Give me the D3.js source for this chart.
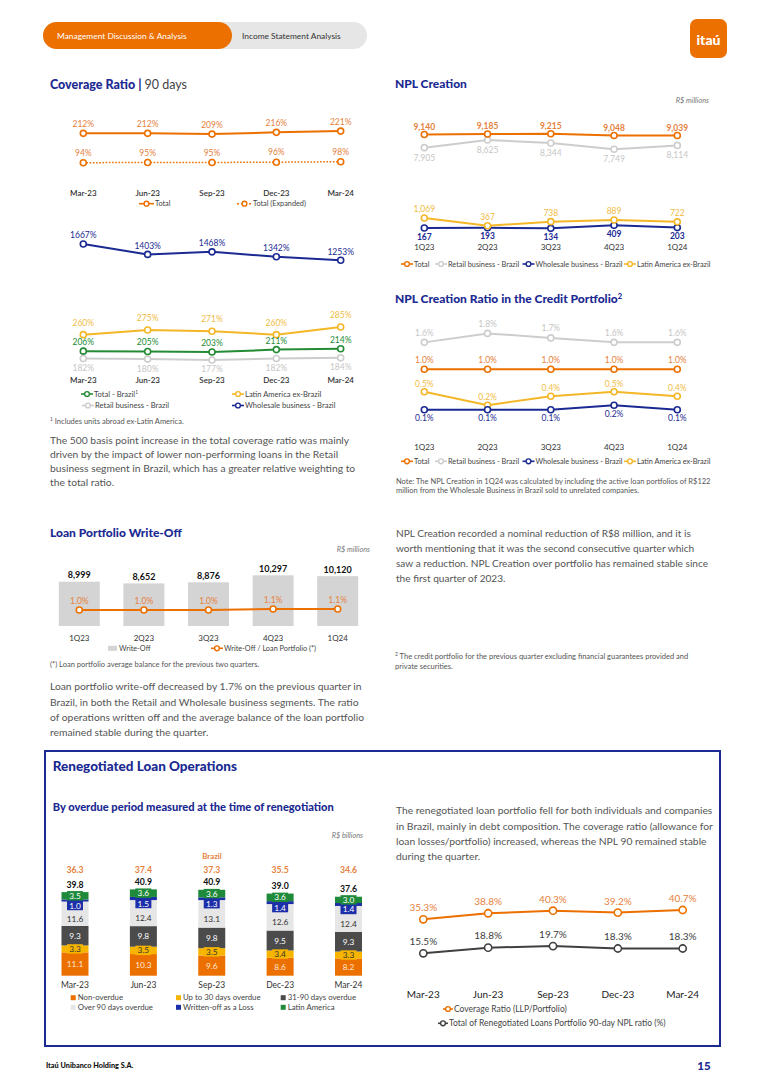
<!DOCTYPE html>
<html><head><meta charset="utf-8">
<script src="https://cdn.jsdelivr.net/npm/d3@7"></script>
<style>html,body{margin:0;padding:0;background:#fff}svg{display:block}</style>
</head><body>
<script>
// ---------------- DATA ----------------
const months = ["Mar-23","Jun-23","Sep-23","Dec-23","Mar-24"];
const quarters = ["1Q23","2Q23","3Q23","4Q23","1Q24"];

// Coverage ratio (90 days), %
const covTotal = [212,212,209,216,221];
const covExpanded = [94,95,95,96,98];
const covWholesale = [1667,1403,1468,1342,1253];
const covLatam = [260,275,271,260,285];
const covBrazil = [206,205,203,211,214];
const covRetail = [182,180,177,182,184];

// NPL creation, R$ millions
const nplTotal = [9140,9185,9215,9048,9039];
const nplRetail = [7905,8625,8344,7749,8114];
const nplWholesale = [167,193,134,409,203];
const nplLatam = [1069,367,738,889,722];

// NPL creation ratio in the credit portfolio, %
const ratioRetail = [1.6,1.8,1.7,1.6,1.6];
const ratioTotal = [1.0,1.0,1.0,1.0,1.0];
const ratioLatam = [0.5,0.2,0.4,0.5,0.4];
const ratioWholesale = [0.1,0.1,0.1,0.2,0.1];

// Loan portfolio write-off
const writeOff = [8999,8652,8876,10297,10120];
const writeOffRatio = [1.0,1.0,1.0,1.1,1.1];

// Renegotiated loans, R$ billions
const segNames = ["Non-overdue","Up to 30 days overdue","31-90 days overdue","Over 90 days overdue","Written-off as a Loss","Latin America"];
const nonOverdue = [11.1,10.3,9.6,8.6,8.2];
const upTo30 = [3.3,3.5,3.5,3.4,3.3];
const days31to90 = [9.3,9.8,9.8,9.5,9.3];
const over90 = [11.6,12.4,13.1,12.6,12.4];
const writtenOffLoss = [1.0,1.5,1.3,1.4,1.4];
const latinAmerica = [3.5,3.6,3.6,3.6,3.0];
const brazilTotal = [36.3,37.4,37.3,35.5,34.6];
const grandTotal = [39.8,40.9,40.9,39.0,37.6];
const renegCoverage = [35.3,38.8,40.3,39.2,40.7];
const renegNPL90 = [15.5,18.8,19.7,18.3,18.3];

// ---------------- STYLE ----------------
const FONT = "Lato, 'Open Sans', 'Noto Sans', sans-serif";
const ORANGE = "#EC7000", ORANGE_L = "#E5813D";
const NAVY = "#1B2A92";
const YELLOW = "#F4B728", YELLOW_L = "#F0BC45";
const GREEN = "#238B34";
const LGRAY = "#CDCDCD", LGRAY_L = "#C6C6C6";
const TXT = "#4A4A4A";
const PARA = 10.3, NOTE = 7.5;

const W = 766, H = 1083;
const svg = d3.select("body").append("svg").attr("width", W).attr("height", H)
  .style("font-family", FONT);
svg.append("rect").attr("width", W).attr("height", H).attr("fill", "#fff");

function txt(x, y, s, o = {}) {
  const t = svg.append("text").attr("x", x).attr("y", y).text(s)
    .attr("font-size", o.size || 8).attr("fill", o.color || TXT)
    .attr("text-anchor", o.anchor || "start");
  if (o.weight) t.attr("font-weight", o.weight);
  if (o.italic) t.attr("font-style", "italic");
  return t;
}
function para(x, y0, lh, lines, size) {
  lines.forEach((l, i) => txt(x, y0 + i * lh, l, {size: size || PARA, color: "#555"}));
}
const pct = d => d + "%";
const pct1 = d => d3.format(".1f")(d) + "%";
const num = d3.format(",");

function series(values, x, cats, y, o) {
  const g = svg.append("g");
  const pts = values.map((v, i) => [x(cats[i]), y(v)]);
  g.append("path").attr("d", d3.line()(pts)).attr("fill", "none")
    .attr("stroke", o.color).attr("stroke-width", o.width || 2)
    .attr("stroke-dasharray", o.dash || null);
  g.selectAll("circle").data(pts).join("circle")
    .attr("cx", d => d[0]).attr("cy", d => d[1]).attr("r", o.r || 3)
    .attr("fill", "#fff").attr("stroke", o.color).attr("stroke-width", 1.6);
  const fs = o.fs || 8.5;
  g.selectAll("text").data(values).join("text")
    .attr("x", (d, i) => x(cats[i]))
    .attr("y", d => y(d) + o.dy + fs * 0.35)
    .attr("text-anchor", "middle").attr("font-size", fs)
    .attr("fill", o.labelColor || o.color)
    .attr("font-weight", o.lw || null)
    .text(o.fmt);
}
function xLabels(x, cats, y, o = {}) {
  cats.forEach(c => txt(x(c), y, c, {anchor: "middle", size: o.size || 8, color: o.color || "#333", weight: o.weight}));
}
function legLine(x, y, color, label, o = {}) {
  const len = o.len || 12;
  svg.append("line").attr("x1", x).attr("x2", x + len).attr("y1", y).attr("y2", y)
    .attr("stroke", color).attr("stroke-width", 1.6).attr("stroke-dasharray", o.dash || null);
  svg.append("circle").attr("cx", x + len / 2).attr("cy", y).attr("r", 2.4)
    .attr("fill", "#fff").attr("stroke", color).attr("stroke-width", 1.4);
  return txt(x + len + 1, y + 2.5, label, {size: o.size || 7.3, color: "#444"});
}
function legBox(x, y, color, label, o = {}) {
  svg.append("rect").attr("x", x).attr("y", y - (o.h || 5) / 2).attr("width", o.w || 5).attr("height", o.h || 5).attr("fill", color);
  txt(x + (o.w || 5) + 2, y + 2.6, label, {size: o.size || 7.3, color: "#444"});
}
function title(x, y, s, size) {
  return txt(x, y, s, {size: size || 12, color: NAVY, weight: 900});
}

// ---------------- HEADER ----------------
svg.append("rect").attr("x", 43).attr("y", 22).attr("width", 324).attr("height", 27).attr("rx", 13.5).attr("fill", "#E6E6E6");
svg.append("rect").attr("x", 43).attr("y", 22).attr("width", 189).attr("height", 27).attr("rx", 13.5).attr("fill", ORANGE);
txt(57, 38.8, "Management Discussion & Analysis", {size: 8.4, color: "#fff"});
txt(242, 38.8, "Income Statement Analysis", {size: 8.4, color: "#333"});
svg.append("rect").attr("x", 690).attr("y", 19).attr("width", 37).attr("height", 39).attr("rx", 7).attr("fill", ORANGE);
txt(708.5, 44.5, "itaú", {size: 14, color: "#fff", anchor: "middle", weight: 900});

// ---------------- COVERAGE RATIO ----------------
{
  const t = title(50, 88.5, "Coverage Ratio", 12.5);
  t.append("tspan").text(" | ");
  t.append("tspan").text("90 days").attr("font-weight", 400).attr("fill", "#444");
  const x = d3.scalePoint().domain(months).range([83.3, 340.7]);
  const y1 = d3.scaleLinear().domain([94, 221]).range([162.7, 131.1]);
  series(covTotal, x, months, y1, {color: ORANGE, labelColor: ORANGE_L, dy: -9.3, fmt: pct});
  series(covExpanded, x, months, y1, {color: ORANGE, labelColor: ORANGE_L, dy: -9.7, fmt: pct, dash: "1.6,1.6", width: 1.5});
  xLabels(x, months, 195.5, {weight: 600});
  legLine(139, 203.7, ORANGE, "Total", {len: 15});
  legLine(237, 203.7, ORANGE, "Total (Expanded)", {len: 15, dash: "2,2"});

  const yW = d3.scaleLinear().domain([1253, 1667]).range([260.3, 244]);
  series(covWholesale, x, months, yW, {color: NAVY, dy: -8.5, fmt: pct});

  const y3 = d3.scaleLinear().domain([177, 285]).range([360, 327]);
  series(covRetail, x, months, y3, {color: LGRAY, labelColor: LGRAY_L, dy: 9.5, fmt: pct});
  series(covLatam, x, months, y3, {color: YELLOW, labelColor: YELLOW_L, dy: -12, fmt: pct});
  series(covBrazil, x, months, y3, {color: GREEN, dy: -9, fmt: pct});
  xLabels(x, months, 383.3, {weight: 600});
  const l1 = legLine(81, 394, GREEN, "Total - Brazil", {size: 7.6});
  l1.append("tspan").text("1").attr("font-size", 4.8).attr("dy", -3);
  legLine(232, 394, YELLOW, "Latin America ex-Brazil", {size: 7.6});
  legLine(82, 405.5, LGRAY, "Retail business - Brazil", {size: 7.6});
  legLine(232, 405.5, NAVY, "Wholesale business - Brazil", {size: 7.6});
  const fn = txt(50, 423.8, "", {size: NOTE, color: "#555"});
  fn.append("tspan").text("1").attr("font-size", 5).attr("dy", -2.7);
  fn.append("tspan").text(" Includes units abroad ex-Latin America.").attr("dy", 2.7);
  para(50, 443.8, 14.1, [
    "The 500 basis point increase in the total coverage ratio was mainly",
    "driven by the impact of lower non-performing loans in the Retail",
    "business segment in Brazil, which has a greater relative weighting to",
    "the total ratio."]);
}

// ---------------- NPL CREATION ----------------
{
  title(395, 87.8, "NPL Creation");
  txt(709, 103, "R$ millions", {size: 7.3, color: "#777", anchor: "end", italic: true});
  const x = d3.scalePoint().domain(quarters).range([424.3, 677.3]);
  const yU = d3.scaleLinear().domain([7749, 9215]).range([149.3, 133.7]);
  const yL = d3.scaleLinear().domain([167, 1069]).range([228, 218]);
  series(nplRetail, x, quarters, yU, {color: LGRAY, labelColor: LGRAY_L, dy: 10, fmt: num});
  series(nplTotal, x, quarters, yU, {color: ORANGE, labelColor: ORANGE_L, dy: -7.8, fmt: num, lw: 700});
  series(nplWholesale, x, quarters, yL, {color: NAVY, dy: 8.7, fmt: num, lw: 700});
  series(nplLatam, x, quarters, yL, {color: YELLOW, labelColor: YELLOW_L, dy: -8.5, fmt: num});
  xLabels(x, quarters, 250, {color: "#333"});
  legLine(401, 264, ORANGE, "Total");
  legLine(435, 264, LGRAY, "Retail business - Brazil");
  legLine(522.5, 264, NAVY, "Wholesale business - Brazil");
  legLine(624, 264, YELLOW, "Latin America ex-Brazil");
}

// ---------------- NPL CREATION RATIO ----------------
{
  const t = title(395, 303.3, "NPL Creation Ratio in the Credit Portfolio");
  t.append("tspan").text("2").attr("font-size", 7.5).attr("dy", -4.5);
  const x = d3.scalePoint().domain(quarters).range([424.3, 677.3]);
  const y = d3.scaleLinear().domain([0.1, 1.0]).range([409.7, 369.3]);
  series(ratioRetail, x, quarters, y, {color: LGRAY, labelColor: LGRAY_L, dy: -9.5, fmt: pct1});
  series(ratioTotal, x, quarters, y, {color: ORANGE, labelColor: ORANGE_L, dy: -9.3, fmt: pct1});
  series(ratioLatam, x, quarters, y, {color: YELLOW, labelColor: YELLOW_L, dy: -7.8, fmt: pct1});
  series(ratioWholesale, x, quarters, y, {color: NAVY, dy: 8.5, fmt: pct1});
  xLabels(x, quarters, 449.8, {color: "#333"});
  legLine(401, 461.3, ORANGE, "Total");
  legLine(435, 461.3, LGRAY, "Retail business - Brazil");
  legLine(522.5, 461.3, NAVY, "Wholesale business - Brazil");
  legLine(624, 461.3, YELLOW, "Latin America ex-Brazil");
  txt(396, 483.8, "Note: The NPL Creation in 1Q24 was calculated by including the active loan portfolios of R$122", {size: NOTE, color: "#555"});
  txt(396, 493, "million from the Wholesale Business in Brazil sold to unrelated companies.", {size: NOTE, color: "#555"});
  para(396, 536.8, 15.2, [
    "NPL Creation recorded a nominal reduction of R$8 million,  and it is",
    "worth mentioning that it was the second consecutive quarter which",
    "saw a reduction. NPL Creation over portfolio has remained stable since",
    "the first quarter of 2023."], 10.1);
  const f2 = txt(395, 658.5, "", {size: NOTE, color: "#555"});
  f2.append("tspan").text("2").attr("font-size", 5).attr("dy", -2.7);
  f2.append("tspan").text(" The credit portfolio for the previous quarter excluding financial guarantees provided and").attr("dy", 2.7);
  txt(395, 668.5, "private securities.", {size: NOTE, color: "#555"});
}

// ---------------- WRITE-OFF ----------------
{
  title(50, 536.6, "Loan Portfolio Write-Off");
  txt(370, 551.5, "R$ millions", {size: 7.3, color: "#777", anchor: "end", italic: true});
  const x = d3.scalePoint().domain(quarters).range([79.3, 337.7]);
  const y = d3.scaleLinear().domain([0, 10297]).range([626, 575.3]);
  const bw = 41;
  svg.append("g").selectAll("rect").data(writeOff).join("rect")
    .attr("x", (d, i) => x(quarters[i]) - bw / 2).attr("width", bw)
    .attr("y", d => y(d)).attr("height", d => y(0) - y(d)).attr("fill", "#D4D4D4");
  svg.append("g").selectAll("text").data(writeOff).join("text")
    .attr("x", (d, i) => x(quarters[i])).attr("y", d => y(d) - 6.5 + 3.2)
    .attr("text-anchor", "middle").attr("font-size", 9).attr("font-weight", 700).attr("fill", "#111")
    .text(num);
  const yr = d3.scaleLinear().domain([1.0, 1.1]).range([610, 609]);
  series(writeOffRatio, x, quarters, yr, {color: ORANGE, labelColor: ORANGE_L, dy: -9, fmt: pct1});
  xLabels(x, quarters, 640.5, {color: "#333"});
  legBox(108, 648.3, "#D4D4D4", "Write-Off", {w: 9, h: 5});
  legLine(211, 648.3, ORANGE, "Write-Off / Loan Portfolio (*)");
  txt(50, 667, "(*) Loan portfolio average balance for the previous two quarters.", {size: NOTE, color: "#555"});
  para(50, 690.3, 15.2, [
    "Loan portfolio write-off decreased by 1.7% on the previous quarter in",
    "Brazil, in both the Retail and Wholesale business segments. The ratio",
    "of operations written off and the average balance of the loan portfolio",
    "remained stable during the quarter."]);
}

// ---------------- RENEGOTIATED ----------------
{
  svg.append("rect").attr("x", 45).attr("y", 751).attr("width", 675).attr("height", 295)
    .attr("fill", "none").attr("stroke", NAVY).attr("stroke-width", 2);
  title(52.7, 771.3, "Renegotiated Loan Operations", 13.5);
  title(52.7, 811, "By overdue period measured at the time of renegotiation", 11.1);
  txt(363, 837.5, "R$ billions", {size: 7.3, color: "#777", anchor: "end", italic: true});
  txt(212, 859, "Brazil", {size: 7.8, color: ORANGE_L, anchor: "middle", weight: 700});

  const segs = [nonOverdue, upTo30, days31to90, over90, writtenOffLoss, latinAmerica];
  const segColors = [ORANGE, "#F7B500", "#4B4B4B", "#E6E6E6", "#1C2FA8", "#1F8A3A"];
  const segText = ["#FFE5D0", "#333", "#fff", "#333", "#fff", "#fff"];
  const segBoxed = [false, true, false, false, true, true];
  const segLabelShift = [0, 0, 0, 5, 5, 0];
  const table = months.map((m, i) => {
    const r = {m};
    segNames.forEach((s, k) => r[s] = segs[k][i]);
    return r;
  });
  const stacked = d3.stack().keys(segNames)(table);
  const x = d3.scalePoint().domain(months).range([75, 348.5]);
  const y = d3.scaleLinear().domain([0, 39.8]).range([975.7, 892.1]);
  const bw = 27;
  stacked.forEach((layer, k) => {
    svg.append("g").selectAll("rect").data(layer).join("rect")
      .attr("x", d => x(d.data.m) - bw / 2).attr("width", bw)
      .attr("y", d => y(d[1])).attr("height", d => y(d[0]) - y(d[1]))
      .attr("fill", segColors[k]);
  });
  stacked.forEach((layer, k) => {
    const g = svg.append("g");
    layer.forEach(d => {
      const cy = (y(d[0]) + y(d[1])) / 2 + segLabelShift[k];
      if (segBoxed[k]) {
        g.append("rect").attr("x", x(d.data.m) - 8).attr("y", cy - 4.7).attr("width", 16).attr("height", 9.4)
          .attr("fill", segColors[k]);
      }
      g.append("text").attr("x", x(d.data.m)).attr("y", cy + 3)
        .attr("text-anchor", "middle").attr("font-size", 8.3).attr("fill", segText[k])
        .text(d3.format(".1f")(d[1] - d[0]));
    });
  });
  const top = stacked[stacked.length - 1];
  svg.append("g").selectAll("text").data(grandTotal).join("text")
    .attr("x", (d, i) => x(months[i])).attr("y", (d, i) => y(top[i][1]) - 7.8 + 3.2)
    .attr("text-anchor", "middle").attr("font-size", 8.7).attr("font-weight", 700).attr("fill", "#111")
    .text(d => d3.format(".1f")(d));
  svg.append("g").selectAll("text").data(brazilTotal).join("text")
    .attr("x", (d, i) => x(months[i])).attr("y", 872.5)
    .attr("text-anchor", "middle").attr("font-size", 8.7).attr("font-weight", 700).attr("fill", ORANGE_L)
    .text(d => d3.format(".1f")(d));
  xLabels(x, months, 988.3, {size: 8.5, color: "#333"});
  const lx = [70.7, 176, 280.7];
  segNames.forEach((s, k) => {
    legBox(lx[k % 3], k < 3 ? 997.7 : 1007.3, segColors[k], s, {size: 7.8});
  });

  para(396, 814.4, 15.2, [
    "The renegotiated loan portfolio fell for both individuals and companies",
    "in Brazil, mainly in debt composition. The coverage ratio (allowance for",
    "loan losses/portfolio) increased, whereas the NPL 90 remained stable",
    "during the quarter."]);

  const xl = d3.scalePoint().domain(months).range([423.3, 682.7]);
  const yl = d3.scaleLinear().domain([15.5, 40.7]).range([953.3, 910]);
  series(renegCoverage, xl, months, yl, {color: ORANGE, labelColor: ORANGE_L, dy: -11.5, fmt: pct1, fs: 10, r: 3.6});
  series(renegNPL90, xl, months, yl, {color: "#404040", dy: -11.8, fmt: pct1, fs: 10, r: 3.6});
  xLabels(xl, months, 997.5, {size: 10, color: "#222"});
  legLine(443, 1009, ORANGE, "Coverage Ratio (LLP/Portfolio)", {size: 8.5, len: 10});
  legLine(438, 1023.3, "#404040", "Total of Renegotiated Loans Portfolio 90-day NPL ratio (%)", {size: 8.5, len: 10});
}

// ---------------- FOOTER ----------------
txt(46, 1067.5, "Itaú Unibanco Holding S.A.", {size: 7.3, color: "#111", weight: 900});
txt(704, 1069.5, "15", {size: 11.5, color: NAVY, weight: 900, anchor: "middle"});
</script>
</body></html>
